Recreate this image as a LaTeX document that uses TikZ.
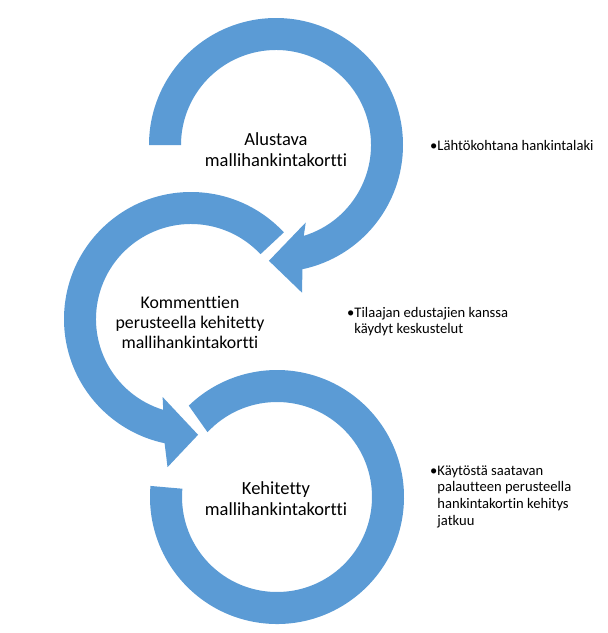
\documentclass[tikz,border=0pt]{standalone}
\usepackage{fontspec}
\setmainfont{Carlito}[Ligatures={NoCommon}]

\definecolor{arrowblue}{RGB}{91,155,213}
\tikzset{
    bandarrow/.style={fill=arrowblue, draw=none},
    steptext/.style={align=center, inner sep=0.75pt, font=\fontsize{18.5}{21}\selectfont},
    notetext/.style={anchor=base west, inner sep=0pt, font=\fontsize{14.6}{16.7}\selectfont},
}

\begin{document}
\begin{tikzpicture}[x=1pt,y=1pt,yscale=-1,xscale=1]
        \useasboundingbox (0,0) rectangle (608,633);

        %Shape: Circular Arrow [top]
        \begin{scope}[shift={(276,145)}]
        \fill[bandarrow] (180:127) arc[start angle=180, end angle=438, radius=127] -- (440:150) -- (453.5:116) -- (429:83) -- (433:95) arc[start angle=433, end angle=180, radius=95] -- cycle ;
        \end{scope}
        %Shape: Circular Arrow [middle]
        \begin{scope}[shift={(191,319)}]
        \fill[bandarrow] (-43:127) arc[start angle=-43, end angle=-258, radius=127] -- (-261:150) -- (-273.5:116) -- (-250:83) -- (-253:95) arc[start angle=-253, end angle=-43, radius=95] -- cycle ;
        \end{scope}
        %Shape: Circular Arrow [bottom]
        \begin{scope}[shift={(277,497)}]
        \fill[bandarrow] (-175:127) arc[start angle=-175, end angle=-494, radius=127] -- (-497:95) arc[start angle=-497, end angle=-175, radius=95] -- cycle ;
        \end{scope}

        % Text Node
        \node[steptext] (alustava) at (276,150) {Alustava\\mallihankintakortti};
        % Text Node
        \node[steptext, font=\fontsize{17.8}{20}\selectfont] (kommentit) at (190,322) {Kommenttien\\perusteella kehitetty\\mallihankintakortti};
        % Text Node
        \node[steptext] (kehitetty) at (276,499) {Kehitetty\\mallihankintakortti};

        % Text Node
        \node[notetext] (lahtokohta) at (430,150) {\textbullet\begin{tabular}[t]{@{}l@{}}Lähtökohtana hankintalaki\end{tabular}};
        % Text Node
        \node[notetext] (keskustelut) at (347,317) {\textbullet\begin{tabular}[t]{@{}l@{}}Tilaajan edustajien kanssa\\käydyt keskustelut\end{tabular}};
        % Text Node
        \node[notetext] (palaute) at (430,475) {\textbullet\begin{tabular}[t]{@{}l@{}}Käytöstä saatavan\\palautteen perusteella\\hankintakortin kehitys\\jatkuu\end{tabular}};
\end{tikzpicture}
\end{document}
